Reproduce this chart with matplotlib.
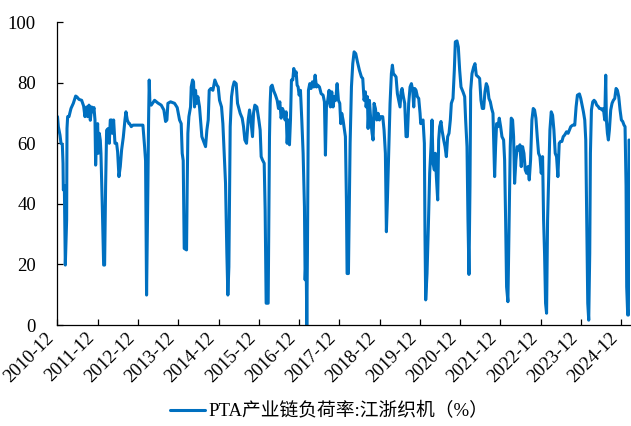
import matplotlib
matplotlib.use("Agg")
import matplotlib.pyplot as plt

# decimal-year time stamps and PTA chain load rate (Jiangsu/Zhejiang looms, %)
t = [2010.917, 2010.938, 2010.979, 2011.004, 2011.037, 2011.054, 2011.062, 2011.087, 2011.111, 2011.144,
     2011.153, 2011.169, 2011.202, 2011.252, 2011.310, 2011.368, 2011.401, 2011.451, 2011.517, 2011.566,
     2011.599, 2011.641, 2011.666, 2011.699, 2011.732, 2011.765, 2011.798, 2011.823, 2011.848, 2011.864,
     2011.889, 2011.914, 2011.930, 2011.955, 2011.980, 2011.996, 2012.030, 2012.063, 2012.087, 2012.112,
     2012.137, 2012.178, 2012.203, 2012.228, 2012.261, 2012.278, 2012.311, 2012.344, 2012.385, 2012.410,
     2012.443, 2012.476, 2012.509, 2012.551, 2012.592, 2012.617, 2012.650, 2012.691,
     2012.707, 2012.749, 2012.790, 2013.038, 2013.080, 2013.104, 2013.129, 2013.162, 2013.179, 2013.195,
     2013.212, 2013.245, 2013.328, 2013.410, 2013.493, 2013.559, 2013.601, 2013.634, 2013.659, 2013.725,
     2013.824, 2013.890, 2013.948, 2013.989, 2014.014, 2014.039, 2014.064, 2014.122, 2014.138, 2014.155,
     2014.180, 2014.221, 2014.238, 2014.271, 2014.295, 2014.320, 2014.345, 2014.370, 2014.403, 2014.444,
     2014.469, 2014.502,
     2014.594, 2014.627, 2014.660, 2014.685, 2014.726, 2014.776, 2014.825, 2014.875, 2014.908, 2014.941,
     2014.991, 2015.024, 2015.057, 2015.090, 2015.123, 2015.148, 2015.173, 2015.206, 2015.239, 2015.272,
     2015.305, 2015.355, 2015.388, 2015.421, 2015.454, 2015.504, 2015.537, 2015.570, 2015.611, 2015.653,
     2015.686, 2015.719, 2015.760, 2015.785, 2015.818, 2015.868, 2015.917, 2015.950, 2015.975, 2016.008,
     2016.050, 2016.074, 2016.099, 2016.149, 2016.165, 2016.182, 2016.198, 2016.215, 2016.248, 2016.281,
     2016.330, 2016.372, 2016.405, 2016.438, 2016.471, 2016.504, 2016.537, 2016.570, 2016.595, 2016.620,
     2016.653, 2016.678, 2016.703, 2016.727, 2016.760, 2016.785, 2016.818, 2016.843, 2016.868, 2016.893,
     2016.918, 2016.951, 2016.984, 2017.017, 2017.050, 2017.067, 2017.091, 2017.108, 2017.124, 2017.149,
     2017.182, 2017.215, 2017.248, 2017.282, 2017.315, 2017.348, 2017.381, 2017.422, 2017.464, 2017.513,
     2017.546, 2017.571, 2017.596, 2017.629, 2017.662, 2017.695, 2017.728, 2017.761, 2017.794, 2017.827,
     2017.861, 2017.894, 2017.927, 2017.952, 2017.976, 2018.009, 2018.043, 2018.067, 2018.092, 2018.109,
     2018.142, 2018.184, 2018.217, 2018.250, 2018.283, 2018.324, 2018.366, 2018.415, 2018.465, 2018.498,
     2018.531, 2018.564, 2018.581, 2018.614, 2018.630, 2018.663, 2018.697, 2018.730, 2018.754, 2018.779,
     2018.812, 2018.845, 2018.879, 2018.912, 2018.945, 2018.994, 2019.027, 2019.060, 2019.085, 2019.110,
     2019.143, 2019.176, 2019.209, 2019.234, 2019.259, 2019.292, 2019.325, 2019.358, 2019.391, 2019.424,
     2019.449, 2019.474, 2019.507, 2019.540, 2019.573, 2019.606, 2019.639, 2019.673, 2019.706, 2019.739,
     2019.764, 2019.788, 2019.821, 2019.855, 2019.888, 2019.921, 2019.937,
     2019.995, 2020.028, 2020.044, 2020.061, 2020.094, 2020.127, 2020.160, 2020.193, 2020.218, 2020.243,
     2020.276, 2020.301, 2020.326, 2020.359, 2020.383, 2020.408, 2020.441, 2020.466, 2020.508, 2020.541,
     2020.574, 2020.607, 2020.640, 2020.673, 2020.698, 2020.739, 2020.772, 2020.797, 2020.838, 2020.871,
     2020.905, 2020.938, 2020.987, 2021.029, 2021.053, 2021.087, 2021.111, 2021.136, 2021.161, 2021.178,
     2021.211, 2021.252, 2021.285, 2021.318, 2021.368, 2021.401, 2021.434, 2021.467, 2021.500, 2021.533,
     2021.566, 2021.599, 2021.632, 2021.666, 2021.699, 2021.732,
     2021.773, 2021.797, 2021.822, 2021.855, 2021.888, 2021.922, 2021.955, 2021.996, 2022.021, 2022.046,
     2022.070, 2022.103, 2022.137, 2022.161, 2022.186, 2022.219, 2022.244, 2022.269, 2022.302, 2022.335,
     2022.368, 2022.401, 2022.434, 2022.467, 2022.501, 2022.534, 2022.567, 2022.600, 2022.633, 2022.666,
     2022.699, 2022.732, 2022.765, 2022.798, 2022.831, 2022.864, 2022.898, 2022.931, 2022.964, 2022.989,
     2023.013, 2023.038, 2023.063, 2023.088, 2023.113, 2023.146, 2023.179, 2023.212, 2023.245, 2023.278,
     2023.311, 2023.344, 2023.377, 2023.410, 2023.443, 2023.477, 2023.510, 2023.559,
     2023.598, 2023.631, 2023.664, 2023.713, 2023.763, 2023.796, 2023.829, 2023.879, 2023.912, 2023.945,
     2023.978, 2024.011, 2024.036, 2024.061, 2024.086, 2024.110, 2024.135, 2024.152, 2024.177, 2024.210,
     2024.243, 2024.276, 2024.309, 2024.342, 2024.375, 2024.408, 2024.441, 2024.474, 2024.507, 2024.532,
     2024.549, 2024.574, 2024.598, 2024.623, 2024.656, 2024.689, 2024.722, 2024.756, 2024.789, 2024.822,
     2024.855, 2024.888, 2024.921, 2024.954, 2024.987, 2025.012, 2025.037, 2025.053, 2025.078, 2025.095,
     2025.111]

load = [68.8, 65.5, 62.7, 60.0, 59.6, 53.4, 44.6, 46.0, 19.8, 34.7,
        64.9, 68.8, 68.8, 71.5, 73.2, 75.6, 75.3, 74.5, 74.2, 72.3,
        68.8, 72.0, 68.8, 72.6, 67.6, 72.0, 70.4, 71.8, 67.7, 52.8,
        63.3, 66.5, 56.7, 63.3, 61.0, 56.7, 39.0, 19.8, 19.8, 46.0,
        64.3, 64.9, 60.0, 67.7, 67.7, 63.3, 67.7, 60.0, 60.0, 57.2,
        49.0, 52.3, 57.8, 62.0, 67.7, 70.4, 67.7, 66.5,
        66.5, 65.5, 66.0, 66.0, 58.9, 54.3, 9.9, 46.0, 67.7, 80.9,
        73.2, 72.6, 74.2, 73.3, 72.6, 71.0, 67.2, 67.7, 73.2, 73.7,
        73.2, 71.8, 67.7, 66.5, 56.7, 54.3, 25.3, 24.8, 46.0, 63.3,
        68.8, 72.0, 78.6, 80.9, 80.3, 72.0, 77.5, 73.2, 75.4, 72.0,
        67.7, 62.2,
        58.9, 64.4, 67.7, 77.5, 78.1, 77.5, 80.9, 79.2, 78.6, 74.2,
        72.0, 66.5, 56.7, 46.8, 23.7, 9.9, 19.2, 65.5, 75.4, 78.6,
        80.3, 79.7, 73.2, 71.5, 69.9, 68.3, 65.5, 61.1, 60.0, 67.7,
        71.0, 67.7, 62.2, 69.9, 72.6, 72.0, 67.7, 64.4, 55.6, 54.5,
        53.4, 38.0, 7.2, 7.2, 34.7, 62.2, 73.2, 78.6, 79.2, 77.5,
        75.9, 74.2, 71.5, 73.7, 68.3, 71.5, 70.4, 67.7, 70.4, 60.0,
        67.7, 59.5, 67.7, 80.9, 80.9, 84.7, 82.5, 83.6, 79.2, 78.6,
        75.9, 77.5, 67.7, 56.7, 39.0, 14.9, 23.7, 0.0, 23.7, 77.5,
        79.7, 78.1, 80.3, 78.6, 82.5, 78.6, 79.2, 78.6, 76.4, 75.9,
        73.7, 56.1, 72.0, 74.2, 77.5, 72.0, 77.0, 72.0, 75.4, 74.2,
        79.7, 74.2, 73.2, 66.5, 69.9, 67.7, 64.4, 62.2, 41.3, 17.0,
        17.0, 60.0, 78.6, 86.3, 90.2, 89.6, 86.9, 84.1, 81.9, 81.4,
        74.2, 77.0, 72.0, 75.4, 64.9, 74.2, 67.7, 63.3, 61.1, 73.2,
        71.5, 67.7, 69.9, 67.7, 68.8, 68.8, 64.4, 56.7, 30.8, 41.3,
        56.7, 73.2, 83.0, 85.8, 83.0, 82.5, 81.9, 76.4, 74.2, 72.0,
        77.0, 78.1, 75.4, 73.2, 62.2, 62.2, 73.2, 78.6, 79.7, 77.5,
        72.0, 78.1, 77.5, 75.4, 74.8, 69.9, 66.5,
        67.7, 60.0, 29.1, 8.3, 17.0, 32.5, 50.1, 58.9, 67.7, 53.4,
        51.2, 56.7, 49.0, 41.3, 61.1, 65.5, 67.2, 64.4, 61.1, 58.9,
        55.6, 62.2, 63.3, 67.7, 73.2, 74.8, 84.1, 93.5, 93.8, 91.8,
        84.1, 78.6, 77.0, 75.4, 67.7, 58.9, 34.7, 16.7, 46.0, 77.5,
        83.0, 85.2, 86.3, 82.5, 81.9, 81.4, 74.2, 71.5, 71.5, 77.0,
        79.7, 78.6, 74.8, 73.7, 71.5, 69.9,
        49.0, 58.9, 66.5, 65.5, 68.3, 65.5, 62.2, 61.1, 54.5, 34.7,
        12.6, 7.7, 39.0, 58.9, 68.3, 67.7, 62.2, 46.8, 54.5, 58.9,
        57.8, 59.5, 52.3, 58.9, 56.7, 51.2, 50.1, 52.3, 47.9, 54.5,
        67.7, 71.5, 71.0, 68.3, 62.2, 56.7, 55.6, 50.1, 55.6, 34.7,
        23.7, 7.2, 3.9, 34.7, 47.9, 64.4, 70.4, 69.3, 64.4, 56.7,
        55.6, 49.0, 60.0, 60.6, 60.6, 62.2, 62.7, 63.8,
        63.3, 64.4, 65.5, 66.0, 66.0, 72.0, 75.9, 76.3, 74.8, 72.6,
        70.4, 67.7, 61.1, 34.7, 7.2, 1.6, 23.7, 56.7, 71.0, 73.7,
        74.2, 73.7, 72.6, 72.2, 71.5, 71.5, 71.0, 71.5, 67.7, 82.5,
        67.7, 63.3, 61.1, 64.4, 71.0, 73.2, 74.2, 74.8, 78.1, 77.5,
        75.4, 71.0, 67.7, 67.2, 66.0, 65.5, 46.0, 12.6, 3.3, 3.3,
        61.1]

tick_years = list(range(2010, 2025))
tick_labels = [f"{y}-12" for y in tick_years]
yticks = [0, 20, 40, 60, 80, 100]
series_name = "PTA产业链负荷率:江浙织机（%）"

serif = ["Liberation Serif", "Noto Sans CJK SC", "DejaVu Sans"]
plt.rcParams["font.family"] = serif
plt.rcParams["font.size"] = 13.5

fig = plt.figure(figsize=(6.31, 4.26), dpi=100)
ax = fig.add_axes([0.0911, 0.237, 0.907, 0.711])

line, = ax.plot(t, load, color="#0070C0", lw=2.2, solid_joinstyle="round",
                solid_capstyle="round", label=series_name)

ax.set_xlim(2010.917, 2025.13)
ax.set_ylim(0, 100)
ax.set_yticks(yticks)
ax.set_xticks([y + 11 / 12 for y in tick_years])
ax.set_xticklabels(tick_labels, rotation=45, ha="right", va="top")

for s in ["top", "right"]:
    ax.spines[s].set_visible(False)
for s in ["left", "bottom"]:
    ax.spines[s].set_color("#000000")
    ax.spines[s].set_linewidth(0.9)

ax.tick_params(axis="y", direction="in", length=4, width=0.9, pad=15.5,
               labelsize=13.5, colors="#000000")
ax.tick_params(axis="x", direction="in", length=4, width=0.9, pad=3,
               labelsize=13.5, colors="#000000")

fig.legend(handles=[line], loc="center", bbox_to_anchor=(0.521, 0.034),
           frameon=False, fontsize=13.5, handlelength=1.9, handletextpad=0.15,
           borderpad=0.1)

fig.savefig("out.png", dpi=100)
